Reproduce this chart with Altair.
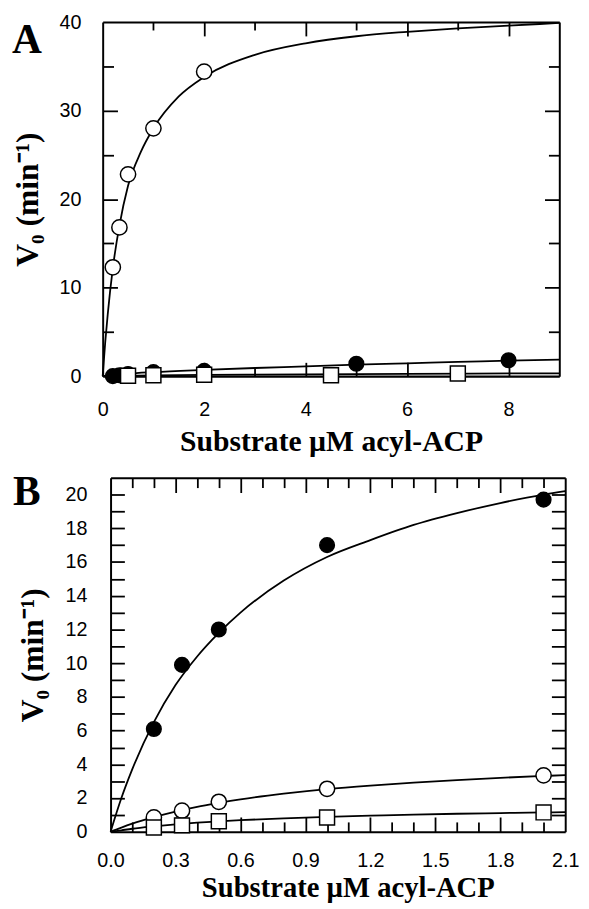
import altair as alt
import pandas as pd

# ---------------- Panel A ----------------
A_OPEN_X = [0.2, 0.33, 0.5, 1.0, 2.0]
A_OPEN_Y = [12.3, 16.8, 22.8, 28.0, 34.4]
A_FILL_X = [0.2, 0.33, 0.5, 1.0, 2.0, 5.0, 8.0]
A_FILL_Y = [0.0, 0.1, 0.25, 0.45, 0.6, 1.4, 1.8]
A_SQ_X = [0.5, 1.0, 2.0, 4.5, 7.0]
A_SQ_Y = [0.05, 0.1, 0.15, 0.1, 0.3]

A_OPEN_CURVE_X = [0, 0.05, 0.1, 0.2, 0.33, 0.5, 0.75, 1.0, 1.5, 2.0, 3.0, 4.0, 5.0, 6.0, 7.0, 8.0, 9.0]
A_OPEN_CURVE_Y = [0, 3.8, 7.0, 12.2, 17.0, 21.5, 25.3, 28.0, 31.6, 33.8, 36.3, 37.6, 38.4, 38.9, 39.3, 39.6, 39.9]
A_FILL_CURVE_X = [0, 0.25, 0.5, 1, 2, 3, 4, 5, 6, 7, 8, 9]
A_FILL_CURVE_Y = [0, 0.15, 0.28, 0.45, 0.7, 0.92, 1.1, 1.3, 1.45, 1.6, 1.75, 1.87]
A_SQ_CURVE_X = [0, 1, 2, 4, 6, 9]
A_SQ_CURVE_Y = [0, 0.08, 0.14, 0.2, 0.26, 0.32]

A_X_LABELS = [0, 2, 4, 6, 8]
A_X_TICKS = [1, 2, 3, 4, 5, 6, 7, 8]
A_Y_LABELS = [0, 10, 20, 30, 40]
A_Y_TICKS = [5, 10, 15, 20, 25, 30, 35]

# ---------------- Panel B ----------------
B_X = [0.2, 0.33, 0.5, 1.0, 2.0]
B_FILL_Y = [6.1, 9.9, 12.0, 17.0, 19.7]
B_OPEN_Y = [0.85, 1.25, 1.78, 2.55, 3.35]
B_SQ_Y = [0.25, 0.38, 0.62, 0.85, 1.15]

B_CURVE_X = [0, 0.05, 0.1, 0.2, 0.3, 0.4, 0.5, 0.6, 0.8, 1.0, 1.2, 1.4, 1.6, 1.8, 2.0, 2.1]
B_FILL_CURVE_Y = [0, 2.0, 3.7, 6.5, 8.7, 10.4, 11.8, 13.0, 14.9, 16.3, 17.3, 18.2, 18.9, 19.5, 20.0, 20.2]
B_OPEN_CURVE_Y = [0, 0.25, 0.48, 0.87, 1.2, 1.48, 1.71, 1.92, 2.26, 2.53, 2.74, 2.92, 3.07, 3.2, 3.31, 3.36]
B_SQ_CURVE_Y = [0, 0.09, 0.18, 0.32, 0.44, 0.54, 0.62, 0.69, 0.8, 0.89, 0.96, 1.02, 1.07, 1.11, 1.15, 1.16]

B_X_LABELS = [0.0, 0.3, 0.6, 0.9, 1.2, 1.5, 1.8, 2.1]
B_X_TICKS = [round(0.1 * i, 1) for i in range(1, 21)]
B_Y_LABELS = [0, 2, 4, 6, 8, 10, 12, 14, 16, 18, 20]
B_Y_TICKS = list(range(1, 21))

PANEL_LABELS = ["A", "B"]
X_TITLE = "Substrate µM acyl-ACP"
Y_TITLE = "V₀ (min⁻¹)"

SERIF = "Liberation Serif"
SANS = "Liberation Sans"

# canvas (one drawing area; each panel gets its own pixel range inside it)
CW, CH = 581, 901
A_XR, A_YR = [96, 559], [367, 8]
B_XR, B_YR = [104, 565], [829, 470]


def panel(label, curves, opens, fills, squares, xdom, ydom, xr, yr,
          xlabels, xticks, xfmt, xmaj, ylabels, yticks, yfmt, ymaj,
          ylabpad, ytitlepad, xlabpad, xtitle_y, xtitle_size, xtitle_dx, lab_x, lab_y):
    xs = alt.Scale(domain=xdom, range=xr, nice=False, zero=False)
    ys = alt.Scale(domain=ydom, range=yr, nice=False, zero=False)
    x0, x1 = xr
    ybot, ytop = yr

    curve_df = pd.DataFrame(curves)
    carrier_df = pd.DataFrame({"x": xdom, "y": ydom})

    xlab = alt.Axis(orient="bottom", offset=-(CH - ybot), values=xlabels, format=xfmt,
                    ticks=False, tickSize=0,
                    domain=True, domainColor="black", domainWidth=2.2,
                    labelFont=SANS, labelFontSize=20, labelColor="black", labelPadding=xlabpad,
                    labelFlush=False, labelOverlap=False,
                    title=X_TITLE, titleFont=SERIF, titleFontWeight="bold",
                    titleFontSize=xtitle_size, titleColor="black",
                    titleBaseline="alphabetic", titleY=xtitle_y,
                    titleX=(x0 + x1) / 2 + xtitle_dx, grid=False)
    ylab = alt.Axis(orient="left", offset=-x0, values=ylabels, format=yfmt,
                    ticks=False, tickSize=0,
                    domain=True, domainColor="black", domainWidth=2,
                    labelFont=SANS, labelFontSize=20, labelColor="black", labelPadding=ylabpad,
                    labelOverlap=False,
                    title=Y_TITLE, titleFont=SERIF, titleFontWeight="bold", titleFontSize=32,
                    titleColor="black", titlePadding=ytitlepad, grid=False)

    def tick_axis(orient, offset, values, maj, dom):
        return alt.Axis(orient=orient, offset=offset, values=values, labels=False,
                        ticks=True, tickSize=maj, tickColor="black", tickWidth=1.8,
                        domain=dom, domainColor="black", domainWidth=2,
                        title=None, grid=False)

    def carrier(xa, ya):
        return alt.Chart(carrier_df).mark_point(opacity=0).encode(
            x=alt.X("x:Q", scale=xs, axis=xa),
            y=alt.Y("y:Q", scale=ys, axis=ya),
        )

    c1 = carrier(xlab, ylab)
    # inward ticks on the bottom edge and on the left edge
    c2 = carrier(tick_axis("top", -ybot, xticks, xmaj, False),
                 tick_axis("right", -(CW - x0), yticks, ymaj, False))
    # inward ticks on the top edge and on the right edge (with the frame lines)
    c3 = carrier(tick_axis("bottom", -(CH - ytop), xticks, xmaj, True),
                 tick_axis("left", -x1, yticks, ymaj, True))

    lines = alt.Chart(curve_df).mark_line(color="black", strokeWidth=1.8, interpolate="monotone").encode(
        x=alt.X("x:Q", scale=xs, axis=None),
        y=alt.Y("y:Q", scale=ys, axis=None),
        detail="s:N",
    )

    def pts(df, shape, fill, size):
        return alt.Chart(pd.DataFrame(df)).mark_point(
            shape=shape, filled=True, fill=fill, stroke="black", strokeWidth=1.5,
            size=size, opacity=1).encode(
            x=alt.X("x:Q", scale=xs, axis=None),
            y=alt.Y("y:Q", scale=ys, axis=None),
        )

    p_fill = pts(fills, "circle", "black", 220)
    p_open = pts(opens, "circle", "white", 240)
    p_sq = pts(squares, "square", "white", 230)

    lab = alt.Chart(pd.DataFrame({"t": [label]})).mark_text(
        font=SERIF, fontWeight="bold", fontSize=42, align="left", baseline="alphabetic",
        color="black").encode(text="t:N", x=alt.value(lab_x), y=alt.value(lab_y))

    return alt.layer(c1, c2, c3, lines, p_fill, p_open, p_sq, lab).resolve_axis(
        x="independent", y="independent")


def curve_rows(pairs):
    xs, ys, ss = [], [], []
    for name, cx, cy in pairs:
        xs += list(cx)
        ys += list(cy)
        ss += [name] * len(cx)
    return {"x": xs, "y": ys, "s": ss}


chart_a = panel(
    PANEL_LABELS[0],
    curve_rows([("open", A_OPEN_CURVE_X, A_OPEN_CURVE_Y),
                ("fill", A_FILL_CURVE_X, A_FILL_CURVE_Y),
                ("sq", A_SQ_CURVE_X, A_SQ_CURVE_Y)]),
    {"x": A_OPEN_X, "y": A_OPEN_Y},
    {"x": A_FILL_X, "y": A_FILL_Y},
    {"x": A_SQ_X, "y": A_SQ_Y},
    [0, 9], [0, 40], A_XR, A_YR,
    A_X_LABELS, A_X_TICKS, "d",
    {"condition": {"test": "datum.value % 2 === 0", "value": 14}, "value": 8},
    A_Y_LABELS, A_Y_TICKS, "d",
    {"condition": {"test": "datum.value % 10 === 0", "value": 15}, "value": 11},
    22, 15, 24, 75, 30, 0, 4, 39,
)

chart_b = panel(
    PANEL_LABELS[1],
    curve_rows([("fill", B_CURVE_X, B_FILL_CURVE_Y),
                ("open", B_CURVE_X, B_OPEN_CURVE_Y),
                ("sq", B_CURVE_X, B_SQ_CURVE_Y)]),
    {"x": B_X, "y": B_OPEN_Y},
    {"x": B_X, "y": B_FILL_Y},
    {"x": B_X, "y": B_SQ_Y},
    [0, 2.1], [0, 21], B_XR, B_YR,
    B_X_LABELS, B_X_TICKS, ".1f",
    {"condition": {"test": "round(datum.value * 10) % 3 === 0", "value": 15}, "value": 10},
    B_Y_LABELS, B_Y_TICKS, "d",
    14,
    24, 16, 19, 66, 29, 10, 5, 498,
)

chart = alt.layer(chart_a, chart_b).resolve_scale(
    x="independent", y="independent"
).resolve_axis(
    x="independent", y="independent"
).properties(
    width=CW, height=CH, padding=0, autosize=alt.AutoSizeParams(type="none")
).configure_view(
    stroke="transparent", strokeWidth=0, strokeOpacity=0
).configure(
    background="white",
    style={"cell": {"stroke": "transparent", "strokeWidth": 0}},
)

chart.save("out.html", embed_options={"renderer": "svg", "actions": False})
